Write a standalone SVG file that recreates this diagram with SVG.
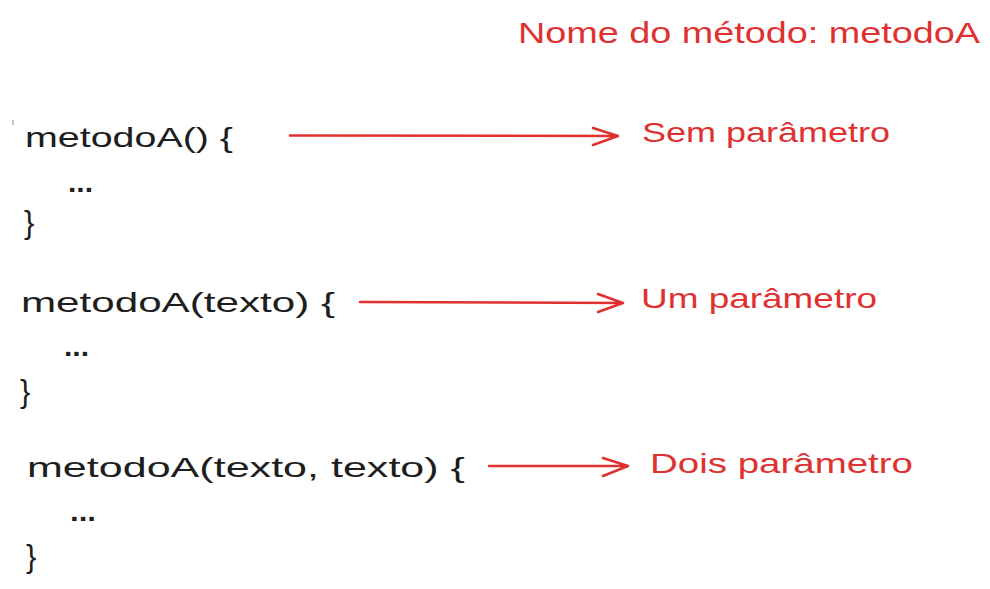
<svg xmlns="http://www.w3.org/2000/svg" width="990" height="589" viewBox="0 0 990 589">
<style>
.code{font-family:"Liberation Sans","DejaVu Sans",sans-serif;font-size:28px;fill:#1e1e1e}
.dots{font-family:"Liberation Sans","DejaVu Sans",sans-serif;font-size:28px;font-weight:bold;fill:#1e1e1e}
.brace{font-family:"Liberation Sans","DejaVu Sans",sans-serif;font-size:31px;fill:#1e1e1e}
.lbl{font-family:"Liberation Sans","DejaVu Sans",sans-serif;font-size:28px;fill:#e03131}
.title{font-family:"Liberation Sans","DejaVu Sans",sans-serif;font-size:30px;fill:#e03131}
.arr{stroke:#e03131;stroke-width:2.5;fill:none;stroke-linecap:round;stroke-linejoin:round}
</style>
<rect width="990" height="589" fill="#ffffff"/>
<g id="title"><text class="title" x="518" y="43" textLength="462" lengthAdjust="spacingAndGlyphs">Nome do método: metodoA</text></g>
<line x1="13" y1="120" x2="13" y2="125" stroke="#888" stroke-width="1"/>
<g id="method1">
<text class="code" x="25" y="147" textLength="208" lengthAdjust="spacingAndGlyphs">metodoA() {</text>
<text class="dots" x="68" y="192" textLength="25" lengthAdjust="spacingAndGlyphs">...</text>
<text class="brace" x="24" y="233">}</text>
</g>
<g id="method2">
<text class="code" x="21" y="312" textLength="314" lengthAdjust="spacingAndGlyphs">metodoA(texto) {</text>
<text class="dots" x="64" y="356" textLength="25" lengthAdjust="spacingAndGlyphs">...</text>
<text class="brace" x="20" y="402">}</text>
</g>
<g id="method3">
<text class="code" x="27" y="477" textLength="438" lengthAdjust="spacingAndGlyphs">metodoA(texto, texto) {</text>
<text class="dots" x="70" y="521" textLength="26" lengthAdjust="spacingAndGlyphs">...</text>
<text class="brace" x="26" y="567">}</text>
</g>
<g id="label1"><text class="lbl" x="642" y="142" textLength="248" lengthAdjust="spacingAndGlyphs">Sem parâmetro</text></g>
<g id="label2"><text class="lbl" x="641" y="308" textLength="236" lengthAdjust="spacingAndGlyphs">Um parâmetro</text></g>
<g id="label3"><text class="lbl" x="650" y="473" textLength="263" lengthAdjust="spacingAndGlyphs">Dois parâmetro</text></g>
<g id="connectors">
<path class="arr" d="M290 135.5 L618 136 M593 128 L618 136 L593 145"/>
<path class="arr" d="M360 302 L623 303 M598 294 L623 303 L598 312"/>
<path class="arr" d="M489 466 L628 466 M603 458 L628 466 L603 476"/>
</g>
</svg>
